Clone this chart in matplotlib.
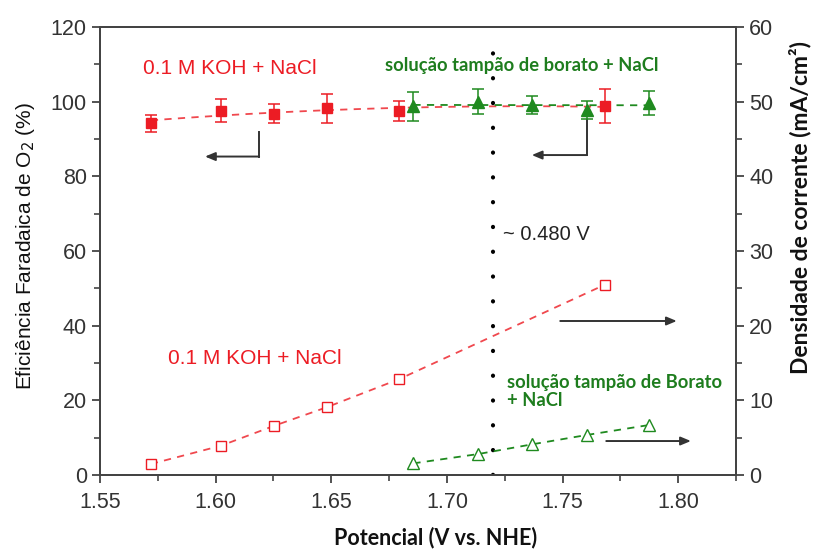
import matplotlib
matplotlib.use("Agg")
import matplotlib.pyplot as plt
import numpy as np

# ---- data ----
pot_koh = [1.572, 1.6023, 1.6254, 1.648, 1.6795, 1.7684]
fe_koh = [94.2, 97.6, 96.8, 98.2, 97.4, 98.8]
fe_koh_err = [2.2, 3.1, 2.5, 3.8, 2.7, 4.5]
j_koh = [1.47, 3.92, 6.6, 9.07, 12.86, 25.5]

pot_bor = [1.6855, 1.7134, 1.7367, 1.7605, 1.7875]
fe_bor = [98.8, 100.0, 99.1, 97.8, 99.7]
fe_bor_err = [3.9, 3.3, 2.5, 2.5, 3.2]
j_bor = [1.56, 2.8, 4.1, 5.36, 6.7]

onset_v = 1.72
xticks = [1.55, 1.60, 1.65, 1.70, 1.75, 1.80]
yticks_fe = [0, 20, 40, 60, 80, 100, 120]
yticks_j = [0, 10, 20, 30, 40, 50, 60]

RED = "#ec1c24"
RED_LINE = "#f0484e"
GREEN = "#1f8a1f"
GREEN_TXT = "#1e7d1e"
AX = "#444444"

fig = plt.figure(figsize=(8.13, 5.49), dpi=100)
ax = fig.add_axes([100/813, 1-475/549, 636/813, 448/549])
ax2 = ax.twinx()

ax.set_xlim(1.55, 1.825)
ax.set_ylim(0, 120)
ax2.set_ylim(0, 60)

# Faradaic efficiency fits
xs = np.linspace(pot_koh[0], pot_koh[-1], 100)
c = np.polyfit(pot_koh, fe_koh, 2)
ax.plot(xs, np.polyval(c, xs), ls=(0, (4, 3.5)), color=RED_LINE, lw=1.3, zorder=2)
xg = np.linspace(pot_bor[0], pot_bor[-1], 50)
cg = np.polyfit(pot_bor, fe_bor, 1)
ax.plot(xg, np.polyval(cg, xg), ls=(0, (4, 3.5)), color=GREEN, lw=1.3, zorder=2)

ax.errorbar(pot_koh, fe_koh, yerr=fe_koh_err, fmt="s", color=RED, ms=7,
            capsize=4, elinewidth=1.1, capthick=1.1, zorder=4)
ax.errorbar(pot_bor, fe_bor, yerr=fe_bor_err, fmt="^", color=GREEN, ms=8,
            capsize=4, elinewidth=1.1, capthick=1.1, zorder=4)

# current density
ax2.plot(pot_koh, j_koh, ls=(0, (4, 3.5)), color=RED_LINE, lw=1.3,
         marker="s", mfc="white", mec=RED, ms=7, mew=1.0)
ax2.plot(pot_bor, j_bor, ls=(0, (4, 3.5)), color=GREEN, lw=1.3,
         marker="^", mfc="white", mec=GREEN, ms=8, mew=1.0)

# onset dotted line
ax.plot([onset_v, onset_v], [0, 116.5], color="black", lw=3.0, ls=(0, (0.05, 5.9)),
        dash_capstyle="round", zorder=3)
ax.text(onset_v + 0.0043, 64.3, "~ 0.480 V", fontsize=14.5, family="Liberation Sans",
        color="#222222", va="center", ha="left")

# arrows
acol = "#333333"
aprops = dict(arrowstyle="-|>,head_length=0.6,head_width=0.25", color=acol, lw=1.4,
              shrinkA=0, shrinkB=0)
ax.plot([1.6188, 1.6188], [92.0, 85.3], color=acol, lw=1.4)
ax.annotate("", xy=(1.5954, 85.3), xytext=(1.6188, 85.3), arrowprops=aprops)
ax.plot([1.7605, 1.7605], [95.1, 85.7], color=acol, lw=1.4)
ax.annotate("", xy=(1.7367, 85.7), xytext=(1.7605, 85.7), arrowprops=aprops)
ax.annotate("", xy=(1.7994, 41.25), xytext=(1.749, 41.25), arrowprops=aprops)
ax.annotate("", xy=(1.8055, 9.1), xytext=(1.7689, 9.1), arrowprops=aprops)

# texts
ax.text(1.5686, 109, "0.1 M KOH + NaCl", color=RED, fontsize=15,
        family="Liberation Sans", va="center", ha="left")
ax.text(1.5794, 31.1, "0.1 M KOH + NaCl", color=RED, fontsize=15,
        family="Liberation Sans", va="center", ha="left")
ax.text(1.6733, 109.8, "solução tampão de borato + NaCl", color=GREEN_TXT,
        fontsize=13.2, family="Lato", weight="bold", va="center", ha="left")
ax.text(1.726, 22.4, "solução tampão de Borato\n+ NaCl", color=GREEN_TXT,
        fontsize=13.2, family="Lato", weight="bold", va="center", ha="left",
        linespacing=1.05)

# ticks & spines
for a in (ax, ax2):
    for s in a.spines.values():
        s.set_color(AX)
        s.set_linewidth(1.4)
ax.set_xticks(xticks)
ax.set_xticklabels([f"{v:.2f}" for v in xticks])
ax.set_xticks(np.arange(1.575, 1.826, 0.05), minor=True)
ax.set_yticks(yticks_fe)
ax.set_yticks(np.arange(10, 120, 20), minor=True)
ax2.set_yticks(yticks_j)
ax2.set_yticks(np.arange(5, 60, 10), minor=True)
for a in (ax, ax2):
    a.tick_params(which="major", direction="out", length=6, width=1.3, color=AX,
                  labelsize=15.5, labelcolor="#333333")
    a.tick_params(which="minor", direction="out", length=4, width=1.2, color=AX)
    for lab in a.get_xticklabels() + a.get_yticklabels():
        lab.set_family("Liberation Sans")
ax.tick_params(axis="x", pad=6)

fig.text(436/813, 1-538/549, "Potencial (V vs. NHE)", fontsize=15.5, family="Lato",
         weight="bold", ha="center", va="center", color="#111111")
fig.text(26/813, 1-246/549, "Eficiência Faradaica de O$_2$ (%)", fontsize=15,
         family="Liberation Sans", rotation=90, ha="center", va="center", color="#111111")
fig.text(800/813, 1-207/549, "Densidade de corrente (mA/cm²)", fontsize=16.5,
         family="Lato", weight="bold", rotation=90, ha="center", va="center", color="#111111")

fig.savefig("out.png", dpi=100)
